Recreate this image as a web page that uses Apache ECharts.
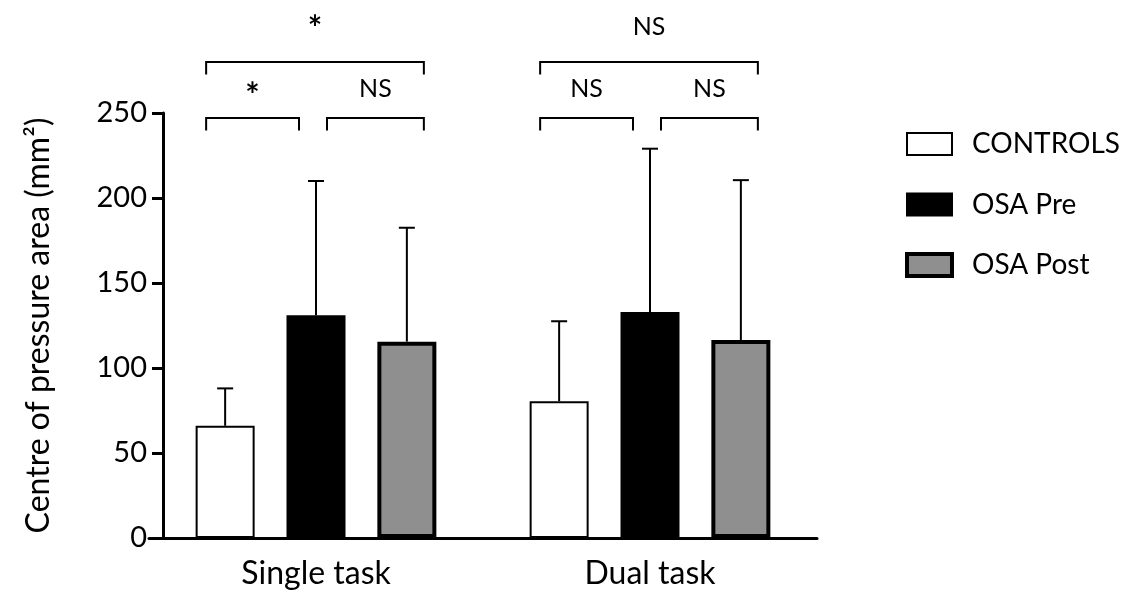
<!DOCTYPE html>
<html><head><meta charset="utf-8">
<script src="https://cdn.jsdelivr.net/npm/echarts@6/dist/echarts.min.js"></script>
<style>html,body{margin:0;padding:0;background:#fff}#c{width:1128px;height:596px}</style>
</head><body><div id="c"></div>
<script>
const categories = ['Single task', 'Dual task'];
const groups = ['CONTROLS', 'OSA Pre', 'OSA Post'];
const controlsMean = [66, 80.5];
const controlsSD = [22, 47];
const osaPreMean = [131, 133];
const osaPreSD = [79, 96];
const osaPostMean = [115.5, 116.5];
const osaPostSD = [67, 94];
const yTicks = [0, 50, 100, 150, 200, 250];
// significance brackets: [category index, from group, to group, level]
const brackets = [[0, 0, 1, 0], [0, 1, 2, 0], [0, 0, 2, 1], [1, 0, 1, 0], [1, 1, 2, 0], [1, 0, 2, 1]];
const bracketLabels = ['*', 'NS', '*', 'NS', 'NS', 'NS'];
const bracketLevels = [247, 280];
const labelLevels = [264, 300.5];

const FONT = 'Lato';
const BAR_W = 59;
const GAP = 0.54;
const STEP = BAR_W * (1 + GAP);

const means = [controlsMean, osaPreMean, osaPostMean];
const sds = [controlsSD, osaPreSD, osaPostSD];
const fills = ['#ffffff', '#000000', '#8f8f8f'];
const borders = [2, 2, 4];
const starShift = [7, 2];

const chart = echarts.init(document.getElementById('c'), null, {renderer: 'canvas'});

function errRender(gi) {
  return function (params, api) {
    const c = api.value(0), m = api.value(1), s = api.value(2);
    const p0 = api.coord([c, m]);
    const p1 = api.coord([c, m + s]);
    const x = p0[0] + (gi - 1) * STEP;
    return {type: 'group', children: [
      {type: 'line', shape: {x1: x, y1: p0[1], x2: x, y2: p1[1]}, style: {stroke: '#000', lineWidth: 2}},
      {type: 'line', shape: {x1: x - 8, y1: p1[1], x2: x + 8, y2: p1[1]}, style: {stroke: '#000', lineWidth: 2}}
    ]};
  };
}

function bracketRender(params, api) {
  const cat = api.value(0), from = api.value(1), to = api.value(2), lvl = api.value(3);
  const base = api.coord([cat, 0])[0];
  const cFrom = base + (from - 1) * STEP;
  const cTo = base + (to - 1) * STEP;
  const l = cFrom + (from === 0 ? -19 : 11);
  const r = cTo + (to === 2 ? 17 : -17);
  const top = api.coord([cat, bracketLevels[lvl]])[1];
  const leg = top + 12.5;
  const ty = api.coord([cat, labelLevels[lvl]])[1];
  const label = bracketLabels[params.dataIndex];
  const isStar = label === '*';
  return {type: 'group', children: [
    {type: 'polyline', shape: {points: [[l, leg], [l, top], [r, top], [r, leg]]},
      style: {stroke: '#000', lineWidth: 2, fill: null}},
    {type: 'text', style: {text: label, x: (l + r) / 2, y: ty + (isStar ? starShift[lvl] : 0),
      fontFamily: FONT, fontSize: isStar ? 34 : 25, fontWeight: isStar ? 'bold' : 'normal',
      fill: '#000', align: 'center', verticalAlign: 'middle'}}
  ]};
}

const series = [];
groups.forEach(function (g, gi) {
  series.push({
    name: g, type: 'bar', barWidth: BAR_W, barGap: (GAP * 100) + '%',
    data: means[gi],
    itemStyle: {color: fills[gi], borderColor: '#000', borderWidth: borders[gi]},
    emphasis: {disabled: true}, z: 2
  });
});
groups.forEach(function (g, gi) {
  series.push({
    type: 'custom', renderItem: errRender(gi), clip: false, z: 3, silent: true,
    encode: {x: 0, y: 1},
    data: categories.map(function (c, ci) { return [ci, means[gi][ci], sds[gi][ci]]; })
  });
});
series.push({
  type: 'custom', renderItem: bracketRender, clip: false, z: 4, silent: true,
  encode: {x: 0, y: 3},
  data: brackets
});

chart.setOption({
  backgroundColor: '#fff',
  animation: false,
  textStyle: {fontFamily: FONT, color: '#000'},
  grid: {left: 149, right: 311, top: 113, bottom: 58, containLabel: false},
  legend: {
    orient: 'vertical', left: 900, top: 125, itemWidth: 45, itemHeight: 22, itemGap: 32.5,
    icon: 'rect',
    textStyle: {fontFamily: FONT, fontSize: 28, color: '#000', padding: [0, 0, 0, 15]},
    data: groups.map(function (g, gi) {
      return {name: g, itemStyle: {color: fills[gi], borderColor: '#000', borderWidth: borders[gi]}};
    })
  },
  xAxis: {
    type: 'category', data: categories,
    axisLine: {lineStyle: {color: '#000', width: 3}},
    axisTick: {alignWithLabel: true, length: 12, lineStyle: {color: '#000', width: 3}},
    axisLabel: {fontFamily: FONT, fontSize: 32, color: '#000', margin: 20}
  },
  yAxis: {
    type: 'value', min: yTicks[0], max: yTicks[yTicks.length - 1], interval: yTicks[1] - yTicks[0],
    offset: -14,
    name: 'Centre of pressure area (mm²)', nameLocation: 'middle', nameGap: 108,
    nameTextStyle: {fontFamily: FONT, fontSize: 32, color: '#000'},
    axisLine: {show: true, lineStyle: {color: '#000', width: 3}},
    axisTick: {show: true, length: 11, lineStyle: {color: '#000', width: 3}},
    axisLabel: {fontFamily: FONT, fontSize: 29, color: '#000', margin: 16},
    splitLine: {show: false}
  },
  series: series
});
</script></body></html>
